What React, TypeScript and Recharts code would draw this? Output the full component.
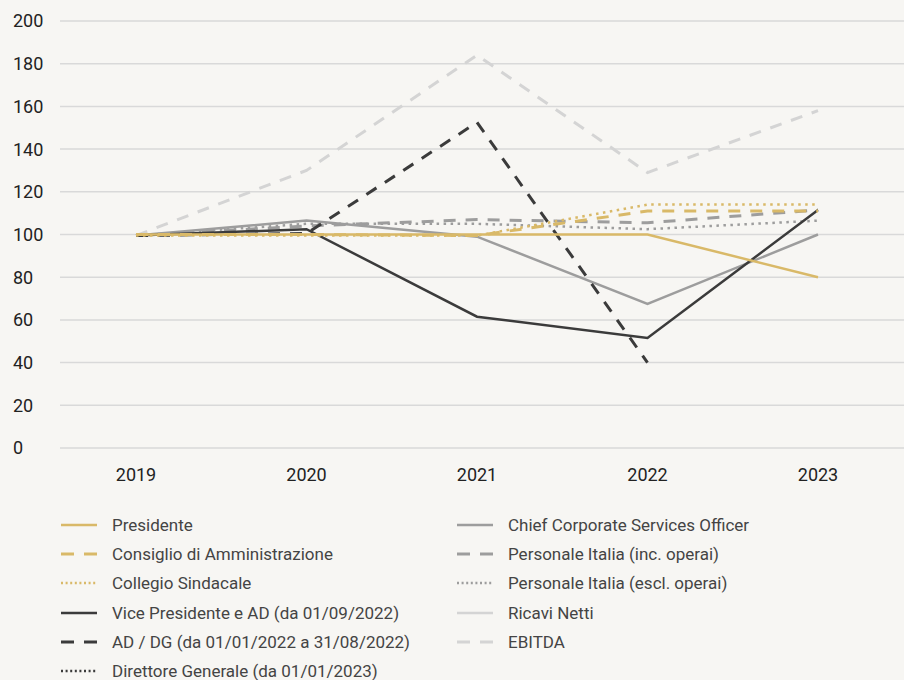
import React from 'react';
import { LineChart, Line, XAxis, YAxis, CartesianGrid } from 'recharts';

const years = ['2019', '2020', '2021', '2022', '2023'];
const yTicks = [0, 20, 40, 60, 80, 100, 120, 140, 160, 180, 200];

const presidente = [100, 100, 100, 100, 80];
const consiglio = [100, 100, 99.5, 111, 111];
const collegio = [99.5, 99.5, 99.5, 114, 114];
const vicePresidente = [99.5, 102.5, 61.5, 51.5, 111.5];
const adDg = [99.5, 100.5, 152.5, 40, null];
const direttoreGenerale = [null, null, null, null, 100];
const cso = [99.5, 106.5, 99, 67.5, 100];
const personaleInc = [99.5, 104, 107, 105.5, 111.5];
const personaleEscl = [99.5, 105, 105, 102.5, 106.5];
const ricaviNetti = [null, null, null, null, null];
const ebitda = [99.5, 130, 184, 129, 158];

const GOLD = '#d9b968';
const DARK = '#3b3b3b';
const MID = '#9d9d9d';
const LIGHT = '#d4d4d4';

type Series = { key: string; name: string; values: (number | null)[]; color: string; style: 'solid' | 'dash' | 'dot'; width: number };

const seriesLeft: Series[] = [
  { key: 'presidente', name: 'Presidente', values: presidente, color: GOLD, style: 'solid', width: 2.5 },
  { key: 'consiglio', name: 'Consiglio di Amministrazione', values: consiglio, color: GOLD, style: 'dash', width: 3 },
  { key: 'collegio', name: 'Collegio Sindacale', values: collegio, color: GOLD, style: 'dot', width: 2.5 },
  { key: 'vice', name: 'Vice Presidente e AD (da 01/09/2022)', values: vicePresidente, color: DARK, style: 'solid', width: 2.5 },
  { key: 'addg', name: 'AD / DG (da 01/01/2022 a 31/08/2022)', values: adDg, color: DARK, style: 'dash', width: 3 },
  { key: 'dg', name: 'Direttore Generale (da 01/01/2023)', values: direttoreGenerale, color: DARK, style: 'dot', width: 2.5 },
];

const seriesRight: Series[] = [
  { key: 'cso', name: 'Chief Corporate Services Officer', values: cso, color: MID, style: 'solid', width: 2.5 },
  { key: 'pinc', name: 'Personale Italia (inc. operai)', values: personaleInc, color: MID, style: 'dash', width: 3 },
  { key: 'pescl', name: 'Personale Italia (escl. operai)', values: personaleEscl, color: MID, style: 'dot', width: 2.5 },
  { key: 'ricavi', name: 'Ricavi Netti', values: ricaviNetti, color: LIGHT, style: 'solid', width: 2.5 },
  { key: 'ebitda', name: 'EBITDA', values: ebitda, color: LIGHT, style: 'dash', width: 3 },
];

const allSeries = [...seriesLeft, ...seriesRight];
const drawOrder = [...seriesRight].reverse().concat([...seriesLeft].reverse());

const data = years.map((year, i) => {
  const row: Record<string, string | number | null> = { year };
  allSeries.forEach((s) => (row[s.key] = s.values[i]));
  return row;
});

// dash patterns differ slightly between plot and legend swatches
const chartDash = { solid: undefined, dash: '12 10', dot: '2.5 4.5' };
const legendDash = { solid: undefined, dash: '13 10', dot: '2 2.6' };

const FONT = 'Roboto, "Noto Sans", sans-serif';

const YTick = (props: any) => (
  <text x={13} y={props.y} dy="0.36em" textAnchor="start" fill="#222" fontSize={18} fontFamily={FONT}>
    {props.payload.value}
  </text>
);

const LegendItem = ({ s, x, y }: { s: Series; x: number; y: number }) => (
  <div style={{ position: 'absolute', left: x, top: y, height: 20, display: 'flex', alignItems: 'center' }}>
    <svg width={36} height={10} style={{ marginRight: 15 }}>
      <line x1={0} y1={5} x2={36} y2={5} stroke={s.color} strokeWidth={s.width} strokeDasharray={legendDash[s.style]} />
    </svg>
    <span style={{ fontFamily: FONT, fontSize: 17, color: '#444', whiteSpace: 'nowrap' }}>{s.name}</span>
  </div>
);

export default function App() {
  return (
    <div style={{ position: 'absolute', left: 0, top: 0, width: 904, height: 680, background: '#f7f6f3', overflow: 'hidden' }}>
      <LineChart width={904} height={500} data={data} margin={{ top: 21, right: 0, left: 0, bottom: 12 }}>
        <CartesianGrid vertical={false} stroke="#d9d9d9" strokeWidth={1.5} />
        <XAxis
          dataKey="year"
          axisLine={false}
          tickLine={false}
          tickSize={0}
          tickMargin={20}
          height={40}
          padding={{ left: 76, right: 86 }}
          tick={{ fill: '#222', fontSize: 18, fontFamily: FONT }}
        />
        <YAxis domain={[0, 200]} ticks={yTicks} width={60} axisLine={false} tickLine={false} tick={<YTick />} />
        {drawOrder.map((s) => (
          <Line
            key={s.key}
            type="linear"
            dataKey={s.key}
            name={s.name}
            stroke={s.color}
            strokeWidth={s.width}
            strokeDasharray={chartDash[s.style]}
            dot={false}
            activeDot={false}
            isAnimationActive={false}
          />
        ))}
      </LineChart>
      {seriesLeft.map((s, i) => (
        <LegendItem key={s.key} s={s} x={61} y={515 + i * 29.2} />
      ))}
      {seriesRight.map((s, i) => (
        <LegendItem key={s.key} s={s} x={457} y={515 + i * 29.2} />
      ))}
    </div>
  );
}
